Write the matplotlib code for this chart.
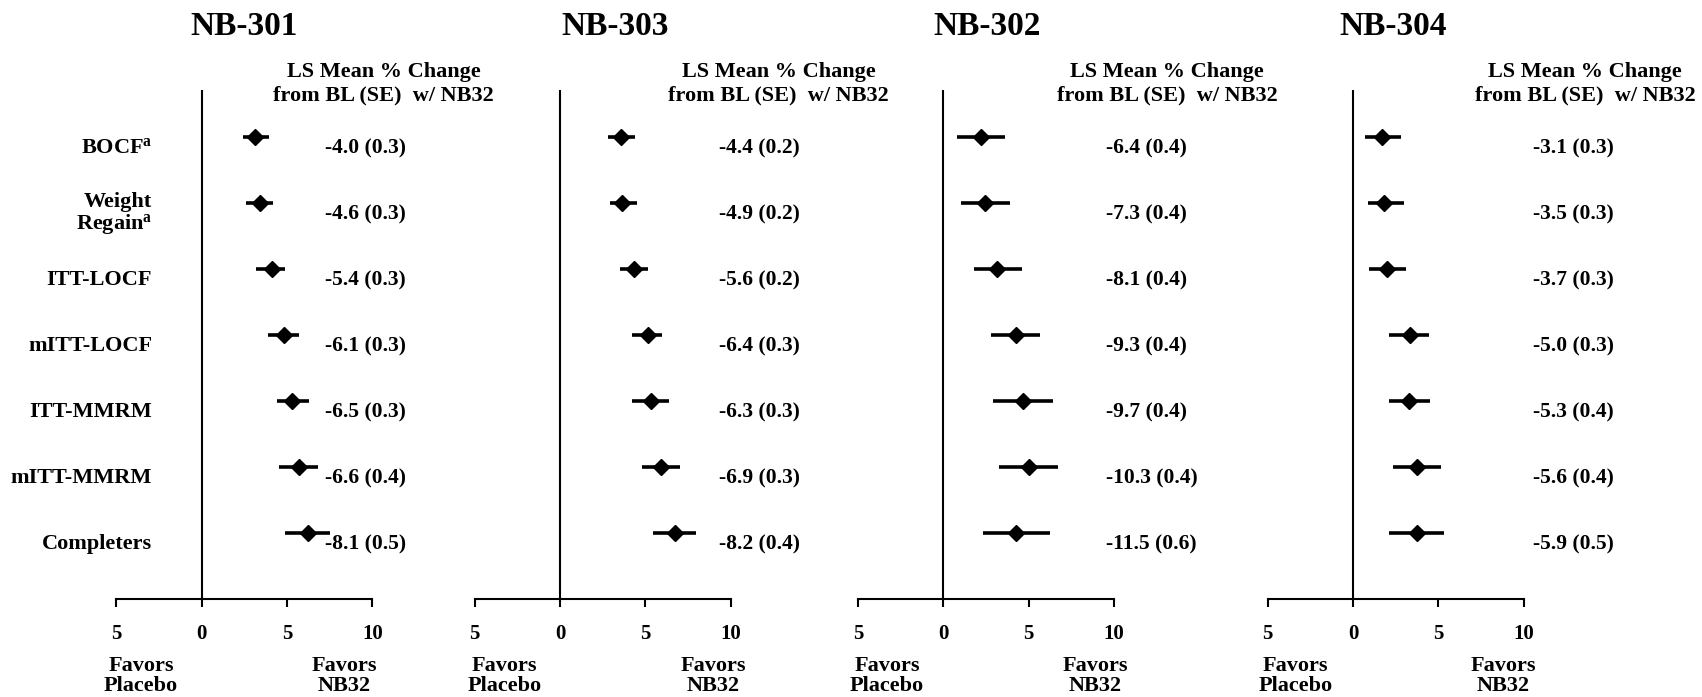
import matplotlib as mplt
mplt.use('Agg')
import numpy as np
import matplotlib.pyplot as plt

mplt.rcParams['font.family'] = 'Liberation Serif'
mplt.rcParams['font.weight'] = 'bold'
mplt.rcParams['mathtext.fontset'] = 'custom'
mplt.rcParams['mathtext.rm'] = 'Liberation Serif:bold'
mplt.rcParams['mathtext.it'] = 'Liberation Serif:bold'
mplt.rcParams['mathtext.bf'] = 'Liberation Serif:bold'

# studies in the order shown
studies = ['NB-301', 'NB-303', 'NB-302', 'NB-304']
analyses = ['BOCF$^{a}$', 'Weight\nRegain$^{a}$', 'ITT-LOCF', 'mITT-LOCF',
            'ITT-MMRM', 'mITT-MMRM', 'Completers']

# placebo-adjusted difference (diamond) and interval ends
est_301 = [3.1, 3.4, 4.1, 4.8, 5.3, 5.7, 6.2]
lo_301 = [2.4, 2.6, 3.2, 3.9, 4.4, 4.5, 4.9]
hi_301 = [3.95, 4.2, 4.9, 5.7, 6.3, 6.8, 7.5]

est_303 = [3.56, 3.66, 4.34, 5.14, 5.33, 5.91, 6.71]
lo_303 = [2.84, 2.94, 3.5, 4.24, 4.24, 4.8, 5.47]
hi_303 = [4.4, 4.51, 5.16, 5.97, 6.38, 7.02, 7.94]

est_302 = [2.21, 2.46, 3.16, 4.26, 4.65, 5.0, 4.26]
lo_302 = [0.8, 1.05, 1.78, 2.77, 2.93, 3.26, 2.34]
hi_302 = [3.61, 3.89, 4.61, 5.68, 6.41, 6.74, 6.25]

est_304 = [1.72, 1.82, 2.01, 3.32, 3.28, 3.73, 3.73]
lo_304 = [0.7, 0.88, 0.96, 2.11, 2.11, 2.34, 2.11]
hi_304 = [2.79, 2.97, 3.1, 4.43, 4.51, 5.18, 5.33]

# LS mean % change from baseline (SE) with NB32
ls_301 = ['-4.0 (0.3)', '-4.6 (0.3)', '-5.4 (0.3)', '-6.1 (0.3)', '-6.5 (0.3)', '-6.6 (0.4)', '-8.1 (0.5)']
ls_303 = ['-4.4 (0.2)', '-4.9 (0.2)', '-5.6 (0.2)', '-6.4 (0.3)', '-6.3 (0.3)', '-6.9 (0.3)', '-8.2 (0.4)']
ls_302 = ['-6.4 (0.4)', '-7.3 (0.4)', '-8.1 (0.4)', '-9.3 (0.4)', '-9.7 (0.4)', '-10.3 (0.4)', '-11.5 (0.6)']
ls_304 = ['-3.1 (0.3)', '-3.5 (0.3)', '-3.7 (0.3)', '-5.0 (0.3)', '-5.3 (0.4)', '-5.6 (0.4)', '-5.9 (0.5)']

tick_vals = [-5, 0, 5, 10]
tick_labels = ['5', '0', '5', '10']

d_est = {'NB-301': est_301, 'NB-303': est_303, 'NB-302': est_302, 'NB-304': est_304}
d_lo = {'NB-301': lo_301, 'NB-303': lo_303, 'NB-302': lo_302, 'NB-304': lo_304}
d_hi = {'NB-301': hi_301, 'NB-303': hi_303, 'NB-302': hi_302, 'NB-304': hi_304}
d_ls = {'NB-301': ls_301, 'NB-303': ls_303, 'NB-302': ls_302, 'NB-304': ls_304}

W, H = 1702, 697
fig = plt.figure(figsize=(W / 100, H / 100), dpi=100)

zeros_px = [201.7, 560, 943.3, 1353]   # x pixel of the zero line in each panel
unit_px = 17.07
title_x = [2.5, 3.2, 2.55, 2.35]
head_x = [10.66, 12.8, 13.1, 13.6]
val_x = [7.2, 9.3, 9.55, 10.55]
fav_l = [-3.55, -3.27, -3.3, -3.35]
fav_r = [8.35, 8.96, 8.9, 8.8]
top_px, bot_px = 90, 599
dy = 0.167  # text sits a little below each marker

for i, study in enumerate(studies):
    left = (zeros_px[i] - 5 * unit_px) / W
    ax = fig.add_axes([left, (H - bot_px) / H, 15 * unit_px / W, (bot_px - top_px) / H])
    ax.patch.set_visible(False)
    ax.set_xlim(-5, 10)
    ax.set_ylim(7.0, -0.712)
    for s in ['left', 'top', 'right']:
        ax.spines[s].set_visible(False)
    ax.spines['bottom'].set_linewidth(1.5)
    ax.axvline(0, color='k', lw=1.5)
    ax.set_yticks([])
    ax.set_xticks(tick_vals)
    ax.set_xticklabels(tick_labels, fontsize=15, fontweight='bold')
    ax.tick_params('x', length=6, width=1.5, direction='out', pad=12)

    rows = np.arange(len(analyses))
    ax.hlines(rows, d_lo[study], d_hi[study], color='k', lw=2.6)
    ax.plot(d_est[study], rows, ls='none', marker='D', ms=8, color='k')

    for r, txt in zip(rows, d_ls[study]):
        ax.text(val_x[i], r + dy, txt, ha='left', va='center', fontsize=15.5)

    ax.text(title_x[i], -1.667, study, ha='center', va='center', fontsize=24)
    ax.text(head_x[i], -0.81, 'LS Mean % Change\nfrom BL (SE)  w/ NB32', ha='center',
            va='center', fontsize=16, linespacing=1.25)
    ax.text(fav_l[i], 8.17, 'Favors\nPlacebo', ha='center', va='center', fontsize=16, linespacing=1.0)
    ax.text(fav_r[i], 8.17, 'Favors\nNB32', ha='center', va='center', fontsize=16, linespacing=1.0)

    if i == 0:
        for r, lab in zip(rows, analyses):
            ax.text(-2.9, r + dy, lab, ha='right', va='center', fontsize=16, linespacing=0.95)

fig.savefig('out.png', dpi=100, facecolor='white')
